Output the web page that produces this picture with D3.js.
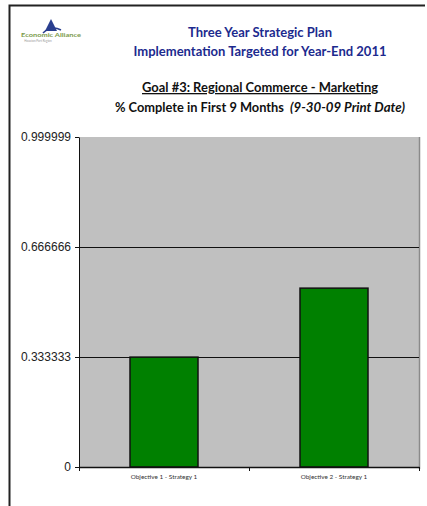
<!DOCTYPE html>
<html>
<head>
<meta charset="utf-8">
<script src="https://cdn.jsdelivr.net/npm/d3@7"></script>
<style>
  body { margin: 0; background: #fff; }
  svg { display: block; }
</style>
</head>
<body>
<div id="chart"></div>
<script>
// data
const categories = ["Objective 1 - Strategy 1", "Objective 2 - Strategy 1"];
const percentComplete = [0.333, 0.542];
const yTicks = [0, 0.333333, 0.666666, 0.999999];
const titleLines = ["Three Year Strategic Plan", "Implementation Targeted for Year-End 2011"];
const goalLine = "Goal #3: Regional Commerce - Marketing";
const subLine = ["% Complete in First 9 Months", "(9-30-09 Print Date)"];

const width = 427;
const height = 506;
const plot = { left: 79, right: 419, top: 137, bottom: 467 };

const svg = d3.select("#chart")
    .append("svg")
    .attr("width", width)
    .attr("height", height);

// outer frame
svg.append("path")
    .attr("d", "M9.5,506 V5.5 H425")
    .attr("fill", "none")
    .attr("stroke", "#222")
    .attr("stroke-width", 2);

// logo
const logo = svg.append("g");
logo.append("path")
    .attr("d", "M45,31 L51,19 L57,31 Z")
    .attr("fill", "#2a3f8f");
logo.append("path")
    .attr("d", "M43,33 Q51,25 61,30")
    .attr("fill", "none")
    .attr("stroke", "#2a3f8f")
    .attr("stroke-width", 1.5);
logo.append("text")
    .attr("x", 51)
    .attr("y", 37)
    .attr("text-anchor", "middle")
    .attr("font-family", "Lato, sans-serif")
    .attr("font-weight", "bold")
    .attr("font-size", 6)
    .attr("fill", "#7a9a4a")
    .attr("textLength", 60)
    .attr("lengthAdjust", "spacingAndGlyphs")
    .text("Economic Alliance");
logo.append("text")
    .attr("x", 38)
    .attr("y", 42)
    .attr("text-anchor", "middle")
    .attr("font-family", "Lato, sans-serif")
    .attr("font-size", 3)
    .attr("fill", "#999")
    .text("Houston Port Region");

// titles
const titleY = [37, 56];
const titleW = [144, 253];
titleLines.forEach((t, i) => {
    svg.append("text")
        .attr("x", 260)
        .attr("y", titleY[i])
        .attr("text-anchor", "middle")
        .attr("font-family", "Lato, sans-serif")
        .attr("font-weight", "bold")
        .attr("font-size", 13)
        .attr("fill", "#1c2a8e")
        .attr("textLength", titleW[i])
        .attr("lengthAdjust", "spacingAndGlyphs")
        .text(t);
});

svg.append("text")
    .attr("x", 260)
    .attr("y", 92)
    .attr("text-anchor", "middle")
    .attr("font-family", "Lato, sans-serif")
    .attr("font-weight", "bold")
    .attr("font-size", 13)
    .attr("fill", "#111")
    .attr("text-decoration", "underline")
    .attr("textLength", 236)
    .attr("lengthAdjust", "spacingAndGlyphs")
    .text(goalLine);

svg.append("text")
    .attr("x", 115)
    .attr("y", 112)
    .attr("font-family", "Lato, sans-serif")
    .attr("font-weight", "bold")
    .attr("font-size", 13)
    .attr("fill", "#111")
    .attr("textLength", 169)
    .attr("lengthAdjust", "spacingAndGlyphs")
    .text(subLine[0]);

svg.append("text")
    .attr("x", 290)
    .attr("y", 112)
    .attr("font-family", "Lato, sans-serif")
    .attr("font-weight", "bold")
    .attr("font-style", "italic")
    .attr("font-size", 13)
    .attr("fill", "#111")
    .attr("textLength", 115)
    .attr("lengthAdjust", "spacingAndGlyphs")
    .text(subLine[1]);

// scales
const x = d3.scaleBand()
    .domain(categories)
    .range([plot.left, plot.right])
    .paddingInner(0.6)
    .paddingOuter(0.3);

const xCat = d3.scaleBand()
    .domain(categories)
    .range([plot.left, plot.right]);

const y = d3.scaleLinear()
    .domain([0, 0.999999])
    .range([plot.bottom, plot.top]);

// plot background
svg.append("rect")
    .attr("x", plot.left)
    .attr("y", plot.top)
    .attr("width", plot.right - plot.left)
    .attr("height", plot.bottom - plot.top)
    .attr("fill", "#c0c0c0");

svg.append("line")
    .attr("x1", plot.right + 0.5)
    .attr("x2", plot.right + 0.5)
    .attr("y1", plot.top)
    .attr("y2", plot.bottom + 2)
    .attr("stroke", "#8a8a8a")
    .attr("stroke-width", 1.5);

// gridlines
svg.selectAll(".grid")
    .data(yTicks.filter(v => v > 0 && v < 0.9))
    .enter()
    .append("line")
    .attr("class", "grid")
    .attr("x1", plot.left)
    .attr("x2", plot.right)
    .attr("y1", d => Math.round(y(d)) + 0.5)
    .attr("y2", d => Math.round(y(d)) + 0.5)
    .attr("stroke", "#111")
    .attr("stroke-width", 1);

// bars
svg.selectAll(".bar")
    .data(categories)
    .enter()
    .append("rect")
    .attr("class", "bar")
    .attr("x", d => x(d))
    .attr("y", (d, i) => y(percentComplete[i]))
    .attr("width", x.bandwidth())
    .attr("height", (d, i) => plot.bottom - y(percentComplete[i]))
    .attr("fill", "#008000")
    .attr("stroke", "#111")
    .attr("stroke-width", 1.5);

// y axis
const yAxis = d3.axisLeft(y)
    .tickValues(yTicks)
    .tickFormat(d => d === 0 ? "0" : d3.format(".6f")(d))
    .tickSize(4)
    .tickSizeOuter(0);

svg.append("g")
    .attr("transform", `translate(${plot.left}, 0)`)
    .call(yAxis)
    .call(g => g.selectAll("text")
        .attr("font-family", "'Liberation Sans', Arial, sans-serif")
        .attr("font-size", 12)
        .attr("fill", "#222")
        .attr("dx", -1))
    .call(g => g.selectAll("line, path").attr("stroke", "#111"));

// x axis
const xAxis = d3.axisBottom(xCat)
    .tickSize(0)
    .tickSizeOuter(0);

const xg = svg.append("g")
    .attr("transform", `translate(0, ${plot.bottom})`)
    .call(xAxis);
xg.select(".domain").attr("stroke", "#111").attr("stroke-width", 1.5);
xg.selectAll("text")
    .attr("font-family", "Lato, sans-serif")
    .attr("font-size", 6.4)
    .attr("fill", "#333")
    .attr("dy", "0.9em")
    .attr("y", 6);

// category separator ticks
const sepPositions = [plot.left, plot.left + xCat.step(), plot.right];
svg.selectAll(".sep")
    .data(sepPositions)
    .enter()
    .append("line")
    .attr("class", "sep")
    .attr("x1", d => d + 0.5)
    .attr("x2", d => d + 0.5)
    .attr("y1", plot.bottom)
    .attr("y2", plot.bottom + 4)
    .attr("stroke", "#111");
</script>
</body>
</html>
